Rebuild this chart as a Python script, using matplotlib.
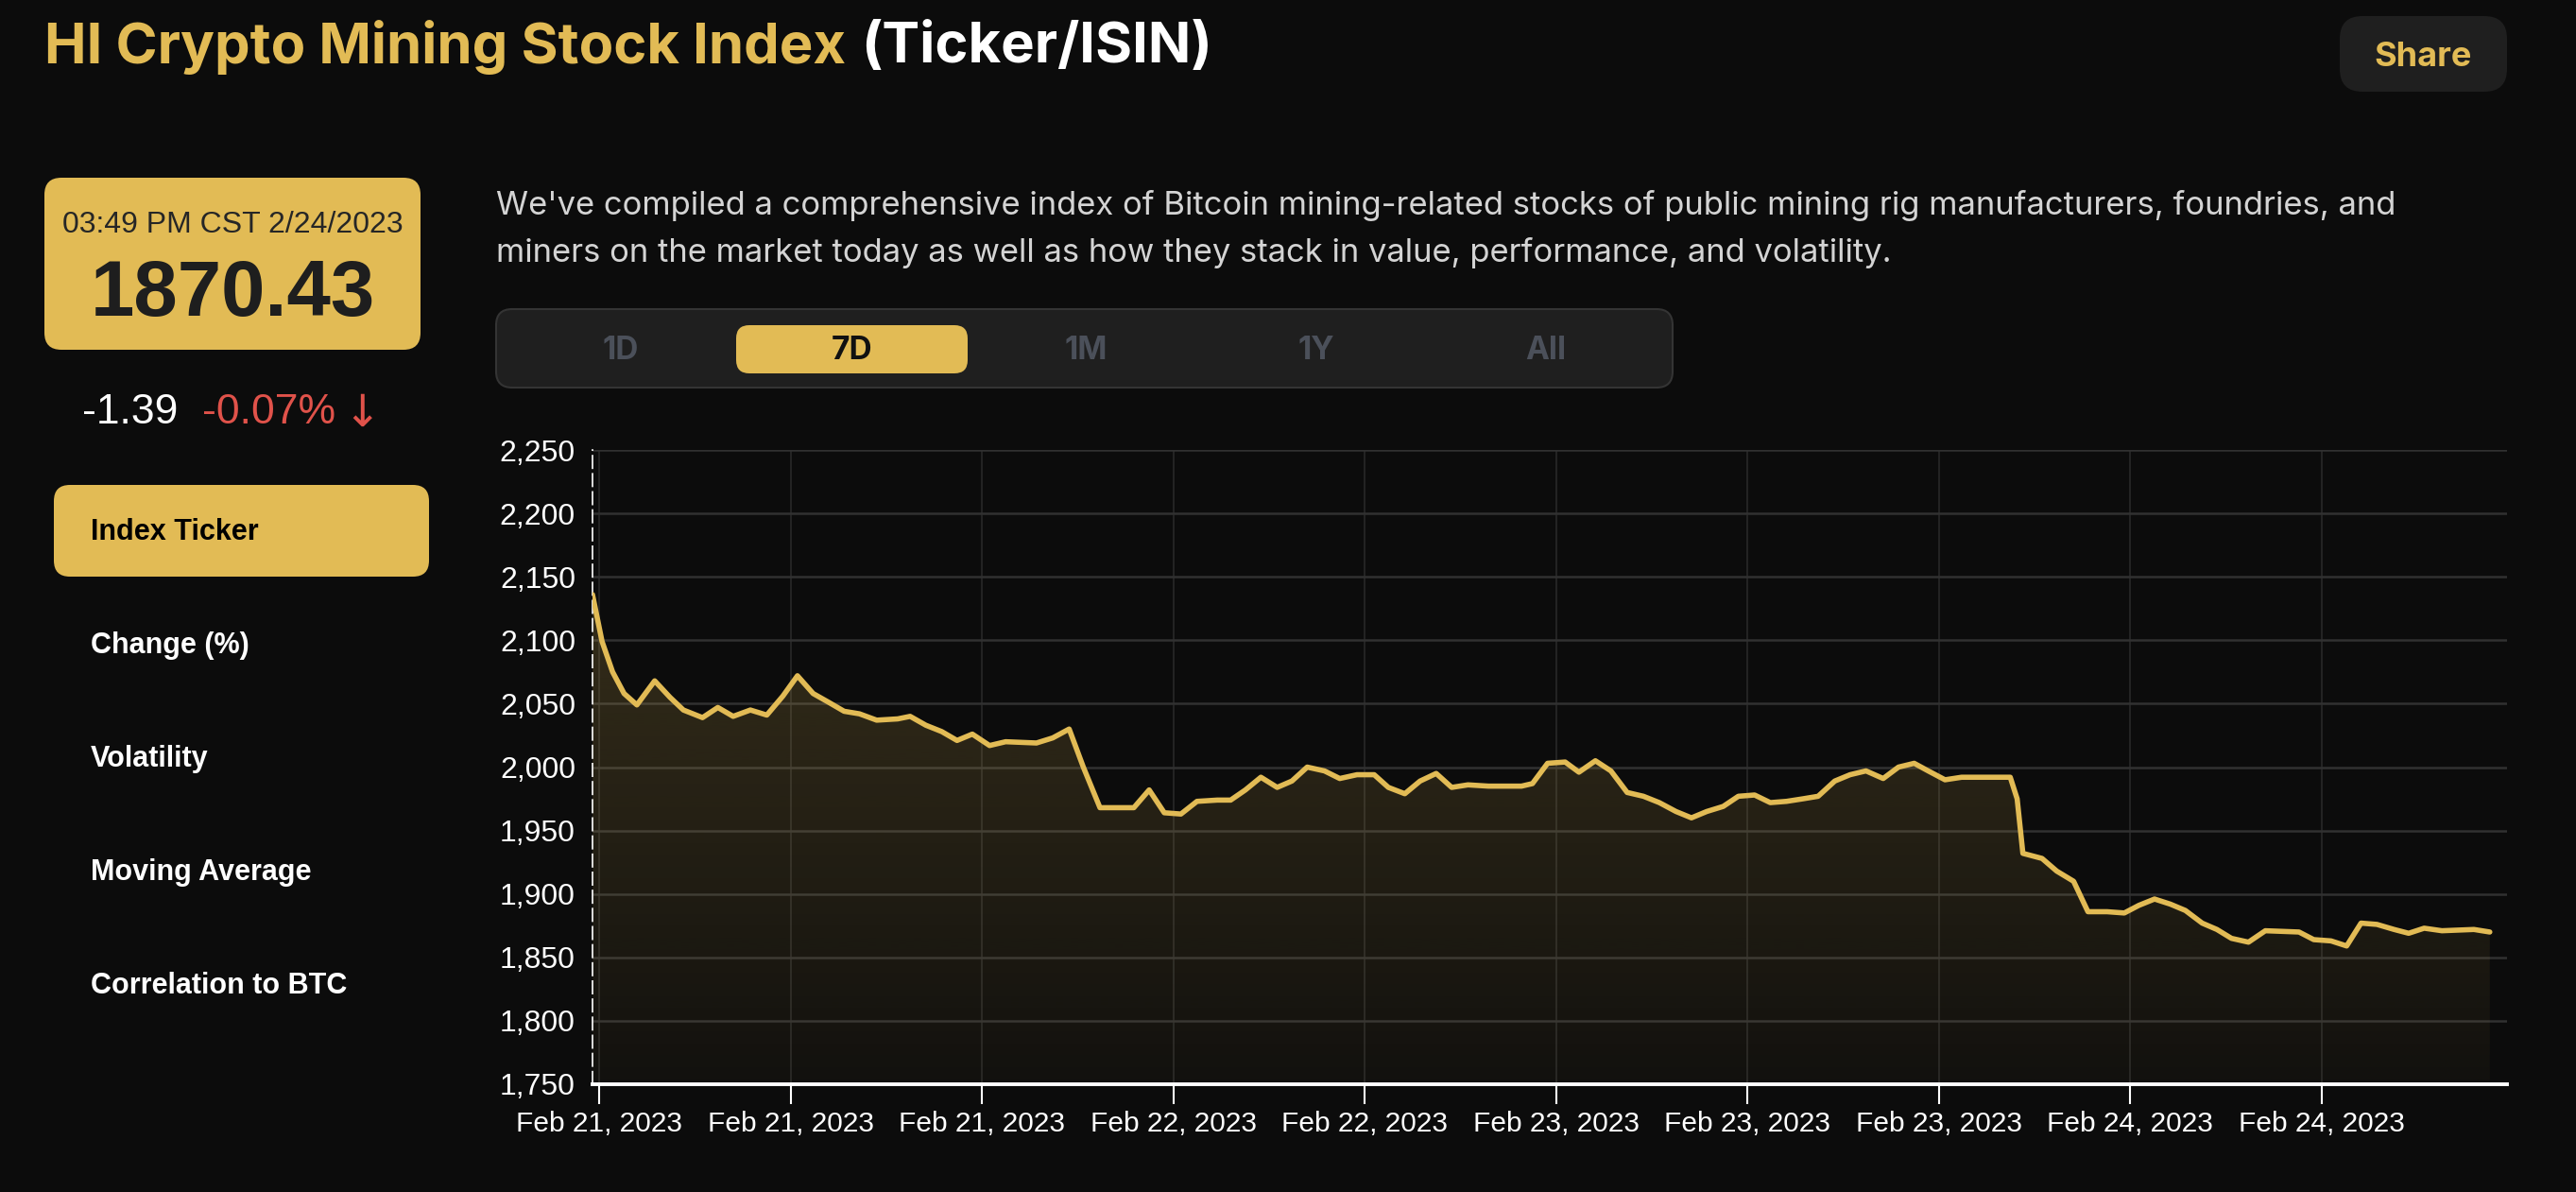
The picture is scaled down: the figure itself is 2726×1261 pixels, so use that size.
#! /usr/bin/env python3

#Recreate the HI Crypto Mining Stock Index page with its 7D chart.

import numpy as np
import matplotlib
matplotlib.use('Agg')
import matplotlib.pyplot as plt
from matplotlib.patches import FancyBboxPatch

#Index values.  The x value is counted in tick steps from the first tick.
timeIdx = [-0.035, 0.015, 0.07, 0.13, 0.197, 0.29, 0.37, 0.44, 0.54, 0.62, 0.70, 0.79, 0.876,
           0.96, 1.036, 1.118, 1.20, 1.28, 1.36, 1.45, 1.56, 1.625, 1.707, 1.79, 1.87, 1.95,
           2.04, 2.124, 2.285, 2.37, 2.456, 2.53, 2.617, 2.71, 2.794, 2.874, 2.953, 3.04, 3.124,
           3.23, 3.30, 3.377, 3.458, 3.543, 3.62, 3.70, 3.79, 3.87, 3.96, 4.05, 4.124, 4.21,
           4.29, 4.374, 4.455, 4.54, 4.647, 4.82, 4.877, 4.956, 5.048, 5.12, 5.206, 5.287,
           5.372, 5.457, 5.54, 5.627, 5.708, 5.788, 5.874, 5.953, 6.038, 6.12, 6.205, 6.29,
           6.37, 6.457, 6.537, 6.62, 6.71, 6.79, 6.872, 6.945, 7.033, 7.12, 7.374, 7.41, 7.44,
           7.54, 7.617, 7.705, 7.78, 7.88, 7.97, 8.046, 8.128, 8.21, 8.289, 8.377, 8.454, 8.53,
           8.619, 8.707, 8.883, 8.96, 9.05, 9.132, 9.207, 9.29, 9.38, 9.456, 9.537, 9.63,
           9.797, 9.88]
indexValues = [2136, 2099, 2075, 2058, 2049, 2068, 2055, 2045, 2039, 2047, 2040, 2045, 2041,
               2056, 2072, 2058, 2051, 2044, 2042, 2037, 2038, 2040, 2033, 2028, 2021, 2026,
               2017, 2020, 2019, 2023, 2030, 2000, 1968, 1968, 1968, 1982, 1964, 1963, 1973,
               1974, 1974, 1982, 1992, 1984, 1989, 2000, 1997, 1991, 1994, 1994, 1984, 1979,
               1989, 1995, 1984, 1986, 1985, 1985, 1987, 2003, 2004, 1996, 2005, 1997,
               1980, 1977, 1972, 1965, 1960, 1965, 1969, 1977, 1978, 1972, 1973, 1975,
               1977, 1989, 1994, 1997, 1991, 2000, 2003, 1997, 1990, 1992, 1992, 1975, 1932,
               1928, 1918, 1910, 1886, 1886, 1885, 1891, 1896, 1892, 1887, 1877, 1872, 1865,
               1862, 1871, 1870, 1864, 1863, 1859, 1877, 1876, 1872, 1869, 1873, 1871,
               1872, 1870]

tickPos = [0, 1, 2, 3, 4, 5, 6, 7, 8, 9]
tickLabels = ['Feb 21, 2023', 'Feb 21, 2023', 'Feb 21, 2023', 'Feb 22, 2023', 'Feb 22, 2023',
              'Feb 23, 2023', 'Feb 23, 2023', 'Feb 23, 2023', 'Feb 24, 2023', 'Feb 24, 2023']
yTicks = [1750, 1800, 1850, 1900, 1950, 2000, 2050, 2100, 2150, 2200, 2250]
yTickLabels = ['1,750', '1,800', '1,850', '1,900', '1,950', '2,000', '2,050', '2,100',
               '2,150', '2,200', '2,250']

#Page text.
titleGold = 'HI Crypto Mining Stock Index'
titleWhite = '(Ticker/ISIN)'
stampText = '03:49 PM CST 2/24/2023'
priceText = '1870.43'
changeText = '-1.39'
changePctText = '-0.07%'
arrowText = '\u2193'
menuItems = ['Index Ticker', 'Change (%)', 'Volatility', 'Moving Average', 'Correlation to BTC']
rangeTabs = ['1D', '7D', '1M', '1Y', 'All']
descLines = ["We've compiled a comprehensive index of Bitcoin mining-related stocks of public mining rig manufacturers, foundries, and",
             'miners on the market today as well as how they stack in value, performance, and volatility.']

#Size of the picture in pixels.
W = 2726
H = 1261

GOLD = '#e2bb55'
RED = '#e0524a'
BG = '#0c0c0c'
PANEL = '#1f1f1f'

SANS = ['Liberation Sans', 'DejaVu Sans']
INTER = ['Inter', 'Liberation Sans', 'DejaVu Sans']

##################################################################################

def roundBox(ax, x0, y0, x1, y1, r, face, edge = 'none', lw = 0) :

  #Draw a rounded box given in page pixels (y goes down).
  box = FancyBboxPatch((x0, y0), x1 - x0, y1 - y0,
                       boxstyle = 'round,pad=0,rounding_size=%g' % r,
                       facecolor = face, edgecolor = edge, linewidth = lw)
  ax.add_patch(box)
#End of the function roundBox

##################################################################################

def rightEdge(fig, txt) :

  #Right edge of a text in pixels.
  fig.canvas.draw()
  bb = txt.get_window_extent(fig.canvas.get_renderer())
  return bb.x1
#End of the function rightEdge

##################################################################################

def drawPage(fig) :

  #An axes over the whole figure, in pixel units, for the page furniture.
  page = fig.add_axes([0, 0, 1, 1])
  page.set_xlim(0, W)
  page.set_ylim(H, 0)
  page.axis('off')

  #Title in two colours.
  t1 = page.text(47, 50, titleGold, color = GOLD, fontsize = 43, fontweight = 'bold',
                 family = INTER, va = 'center', ha = 'left')
  page.text(rightEdge(fig, t1) + 16, 50, titleWhite, color = 'white', fontsize = 43,
            fontweight = 'bold', family = INTER, va = 'center', ha = 'left')

  #Share button.
  roundBox(page, 2476, 17, 2653, 97, 24, PANEL)
  page.text(2564, 60, 'Share', color = GOLD, fontsize = 26, fontweight = 'bold',
            family = INTER, ha = 'center', va = 'center')

  #Price box.
  roundBox(page, 47, 188, 445, 370, 18, GOLD)
  page.text(246, 238, stampText, color = '#262626', fontsize = 23, family = SANS,
            ha = 'center', va = 'center')
  page.text(246, 312, priceText, color = '#1e1e1e', fontsize = 60, fontweight = 'bold',
            family = SANS, ha = 'center', va = 'center')

  #Change under the price.
  page.text(87, 436, changeText, color = 'white', fontsize = 32, family = SANS,
            ha = 'left', va = 'center')
  t2 = page.text(214, 436, changePctText, color = RED, fontsize = 32, family = SANS,
                 ha = 'left', va = 'center')
  page.text(rightEdge(fig, t2) + 8, 438, arrowText, color = RED, fontsize = 34,
            family = ['DejaVu Sans'], ha = 'left', va = 'center')

  #Menu on the left, first item selected.
  roundBox(page, 57, 513, 454, 610, 17, GOLD)
  for i in range(len(menuItems)) :
    y = 563 + 120 * i
    if i == 0 :
      col = 'black'
    else :
      col = 'white'
    page.text(96, y, menuItems[i], color = col, fontsize = 22, fontweight = 'bold',
              family = SANS, ha = 'left', va = 'center')
  #End of for loop - for i in range(len(menuItems)) :

  #Description.
  for i in range(len(descLines)) :
    page.text(525, 217 + 50 * i, descLines[i], color = '#d4d4d4', fontsize = 24.9,
              family = INTER, ha = 'left', va = 'center')
  #End of for loop - for i in range(len(descLines)) :

  #Range tabs, 7D selected.
  roundBox(page, 525, 327, 1770, 410, 17, PANEL, edge = '#343434', lw = 1.5)
  roundBox(page, 779, 344, 1024, 395, 14, GOLD)
  tabX = [657, 902, 1149, 1393, 1636]
  for i in range(len(rangeTabs)) :
    if rangeTabs[i] == '7D' :
      col = '#111111'
    else :
      col = '#4b505a'
    page.text(tabX[i], 371, rangeTabs[i], color = col, fontsize = 24, fontweight = 'bold',
              family = INTER, ha = 'center', va = 'center')
  #End of for loop - for i in range(len(rangeTabs)) :

  return page
#End of the function drawPage

##################################################################################

def drawChart(fig) :

  x0, x1 = 627, 2653
  yTop, yBot = 476, 1147
  ax = fig.add_axes([x0 / W, 1 - yBot / H, (x1 - x0) / W, (yBot - yTop) / H])
  ax.set_facecolor('none')

  x = np.array(timeIdx)
  y = np.array(indexValues)
  xmin = x[0]
  xmax = 9.97

  #Line.
  ax.plot(x, y, color = GOLD, lw = 4.0, solid_joinstyle = 'round', solid_capstyle = 'round',
          zorder = 4)

  #Gradient fill under the line, clipped to the area.
  poly = ax.fill_between(x, y, 1750, color = 'none', lw = 0)
  grad = np.zeros((256, 1, 4))
  grad[:, 0, 0:3] = matplotlib.colors.to_rgb(GOLD)
  grad[:, 0, 3] = np.linspace(0.03, 0.24, 256)
  im = ax.imshow(grad, extent = [xmin, xmax, 1750, 2250], origin = 'lower',
                 aspect = 'auto', zorder = 2, interpolation = 'bilinear')
  im.set_clip_path(poly.get_paths()[0], transform = ax.transData)

  ax.set_xlim(xmin, xmax)
  ax.set_ylim(1750, 2250)

  #Axes and ticks.
  ax.set_xticks(tickPos)
  ax.set_xticklabels(tickLabels)
  ax.set_yticks(yTicks)
  ax.set_yticklabels(yTickLabels)
  for lab in ax.get_xticklabels() + ax.get_yticklabels() :
    lab.set_family(SANS)
  #End of for loop

  ax.tick_params(axis = 'x', colors = 'white', labelsize = 21.5, length = 15, width = 1.5,
                 pad = 5)
  ax.tick_params(axis = 'y', colors = 'white', labelsize = 23, length = 0, pad = 13)

  ax.set_axisbelow(True)
  ax.grid(axis = 'y', color = '#313131', lw = 1.8)
  ax.grid(axis = 'x', color = '#2b2b2b', lw = 1.1)

  ax.spines['top'].set_visible(False)
  ax.spines['right'].set_visible(False)
  ax.spines['bottom'].set_color('white')
  ax.spines['bottom'].set_linewidth(2.8)
  ax.spines['left'].set_color('white')
  ax.spines['left'].set_linewidth(1.2)
  ax.spines['left'].set_linestyle((0, (8, 3.5)))

  return ax
#End of the function drawChart

##################################################################################

def main() :

  plt.rcParams['font.family'] = SANS

  fig = plt.figure(figsize = (W / 100.0, H / 100.0), dpi = 100)
  fig.patch.set_facecolor(BG)

  drawPage(fig)
  drawChart(fig)

  fig.savefig('out.png', dpi = 100, facecolor = BG)
#End of the function main

if __name__ == '__main__':
  main()
